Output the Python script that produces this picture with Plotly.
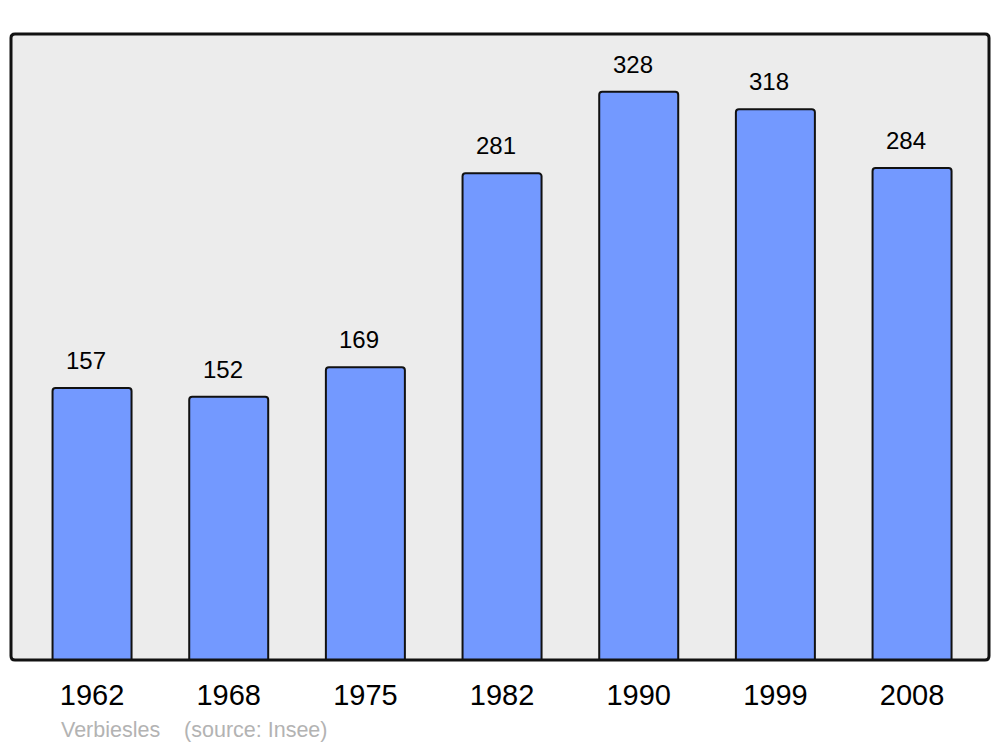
import plotly.graph_objects as go

years = ["1962", "1968", "1975", "1982", "1990", "1999", "2008"]
population = [157, 152, 169, 281, 328, 318, 284]
source_text = "Verbiesles    (source: Insee)"

W, H = 1000, 747
L, R, T, B = 11, 11, 34, 87
pw, ph = W - L - R, H - T - B
FONT = "Liberation Sans, Arial, sans-serif"

fig = go.Figure()
fig.add_trace(go.Bar(
    x=years, y=population, width=0.578,
    marker=dict(color="#7399ff", line=dict(color="#111111", width=2), cornerradius=3),
    hoverinfo="x+y",
))

for i, v in enumerate(population):
    fig.add_annotation(x=i, y=v, text=str(v), showarrow=False, yanchor="bottom",
                       xshift=-6, yshift=12, font=dict(size=24, color="#000000", family=FONT))

fig.add_annotation(xref="paper", yref="paper", x=(59 - L) / pw, y=-(730 - 660) / ph,
                   xanchor="left", yanchor="middle",
                   text=source_text.replace("    ", "&nbsp;&nbsp;&nbsp;&nbsp;"),
                   showarrow=False, font=dict(size=21.5, color="#b3b3b3", family=FONT))

# rounded frame
rx, ry = 4 / pw, 4 / ph
path = (f"M {rx},0 L {1-rx},0 Q 1,0 1,{ry} L 1,{1-ry} Q 1,1 {1-rx},1 "
        f"L {rx},1 Q 0,1 0,{1-ry} L 0,{ry} Q 0,0 {rx},0 Z")
fig.add_shape(type="path", xref="paper", yref="paper", path=path,
              line=dict(color="#111111", width=3), layer="above")

fig.update_layout(
    width=W, height=H,
    margin=dict(l=L, r=R, t=T, b=B, pad=0),
    paper_bgcolor="#ffffff", plot_bgcolor="#ececec",
    showlegend=False,
    xaxis=dict(type="category", range=[-0.593, 6.563], showgrid=False, zeroline=False,
               showline=False, ticks="", ticklabelstandoff=15,
               tickfont=dict(size=29, color="#000000", family=FONT)),
    yaxis=dict(range=[0, 361.4], showgrid=False, zeroline=False, showticklabels=False,
               showline=False, ticks=""),
)

fig.write_html("out.html", config={"displayModeBar": False},
               post_script="document.body.style.margin='0';")
